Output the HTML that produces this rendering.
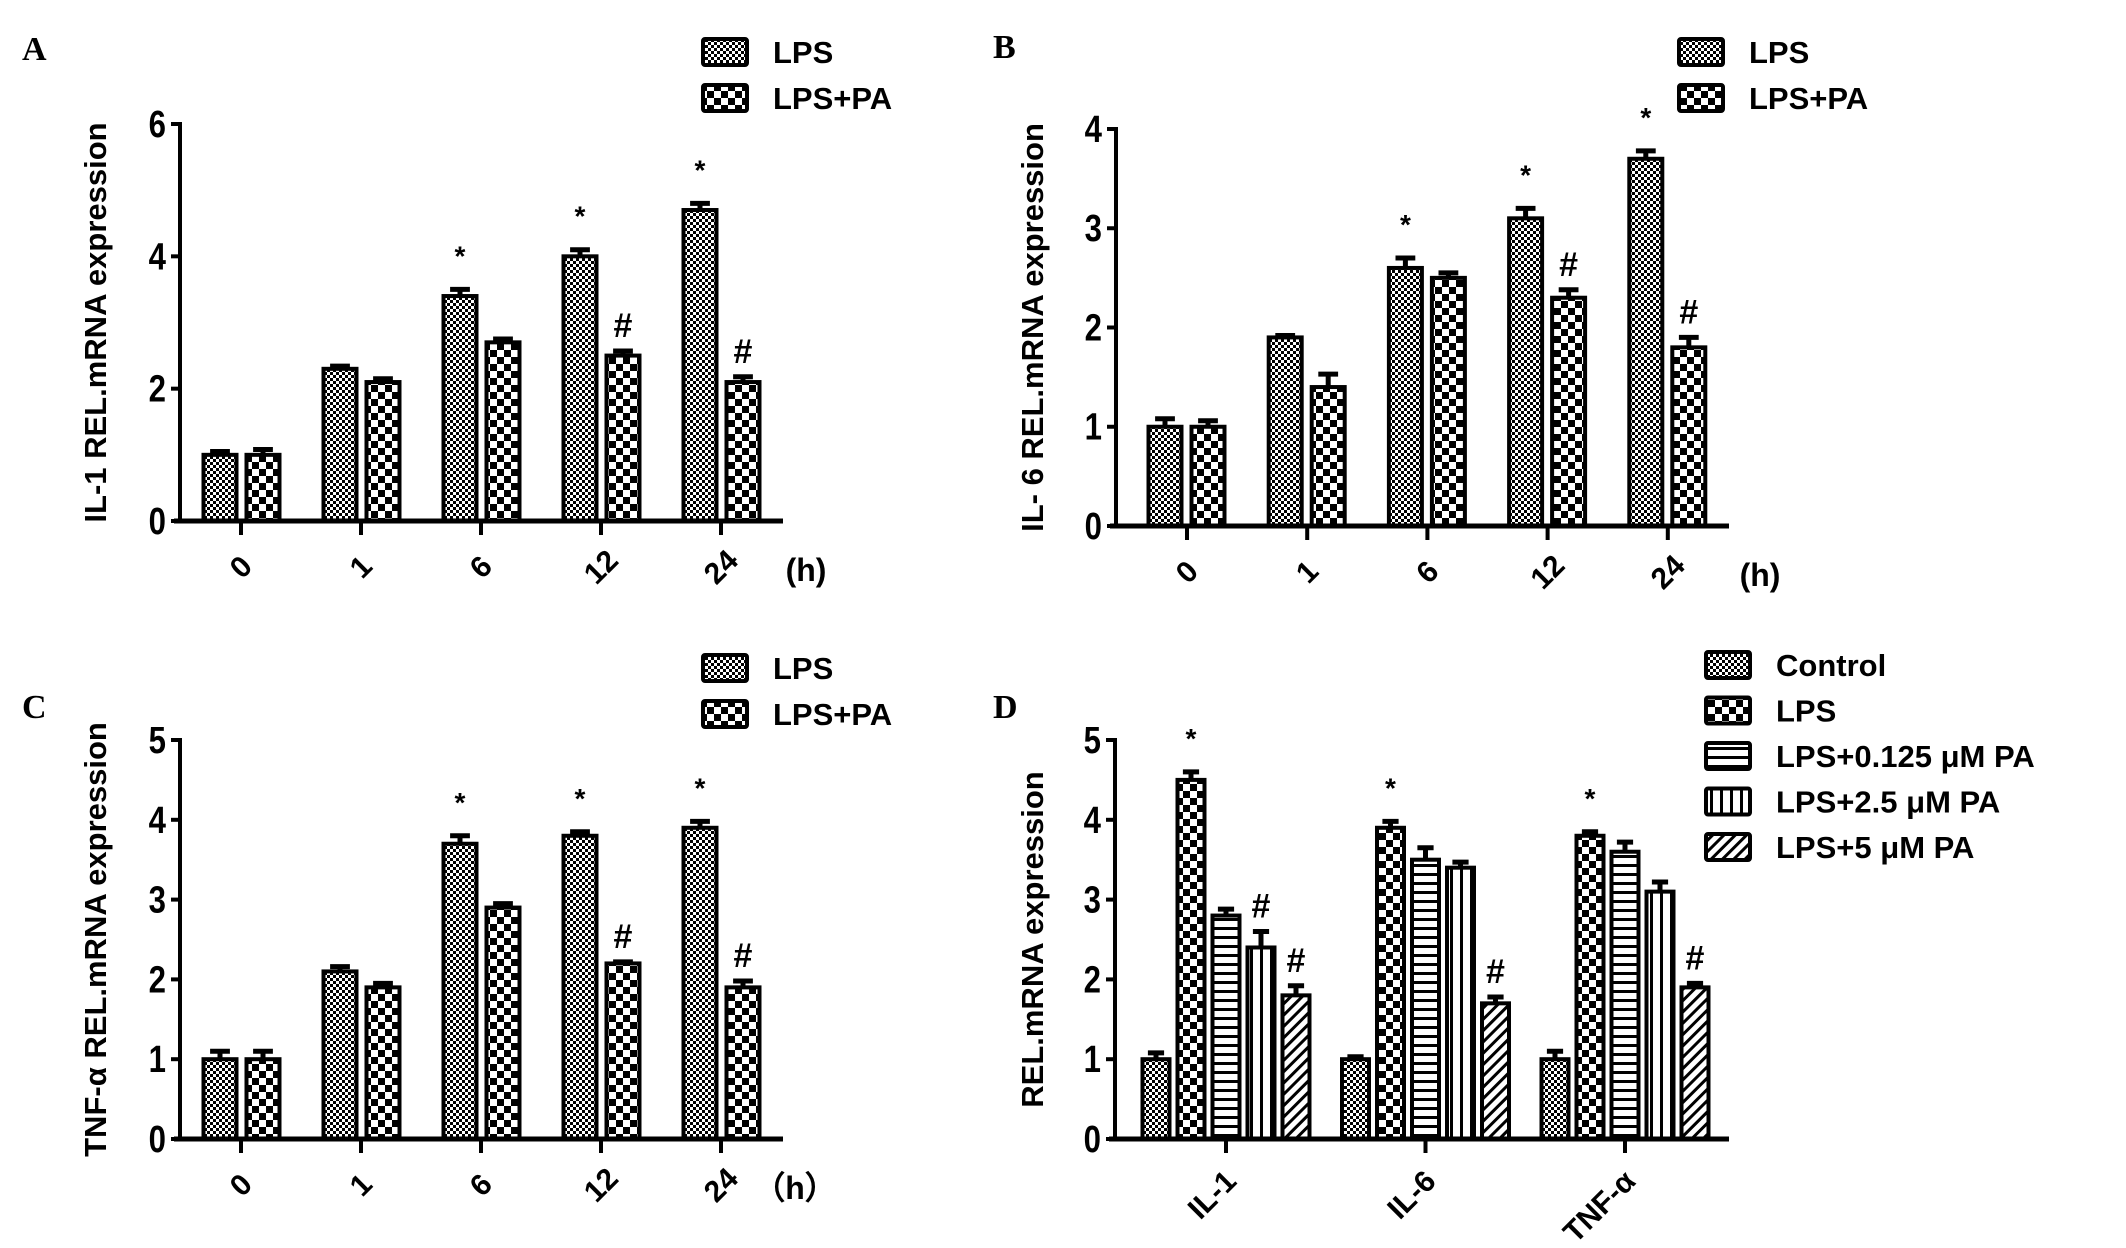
<!DOCTYPE html>
<html><head><meta charset="utf-8">
<style>
html,body{margin:0;padding:0;background:#fff;}
svg{display:block;}
text{font-family:"Liberation Sans",Arial,sans-serif;font-weight:bold;fill:#000;}
.lab{font-family:"Liberation Serif",serif;font-weight:bold;}
</style></head>
<body>
<svg id="fig" width="2126" height="1248" viewBox="0 0 2126 1248" xmlns="http://www.w3.org/2000/svg">
<defs>
<pattern id="pFine" width="6" height="6" patternUnits="userSpaceOnUse"><rect width="6" height="6" fill="#fff"/><rect width="3" height="3" fill="#000"/><rect x="3" y="3" width="3" height="3" fill="#000"/></pattern>
<pattern id="pCoarse" width="14" height="14" patternUnits="userSpaceOnUse"><rect width="14" height="14" fill="#fff"/><rect width="7" height="7" fill="#000"/><rect x="7" y="7" width="7" height="7" fill="#000"/></pattern>
<pattern id="pHoriz" width="8" height="9" patternUnits="userSpaceOnUse"><rect width="8" height="9" fill="#fff"/><rect y="0" width="8" height="3" fill="#000"/></pattern>
<pattern id="pVert" width="10" height="8" patternUnits="userSpaceOnUse"><rect width="10" height="8" fill="#fff"/><rect x="0" width="3" height="8" fill="#000"/></pattern>
<pattern id="pDiag" width="8" height="8" patternUnits="userSpaceOnUse" patternTransform="rotate(45)"><rect width="8" height="8" fill="#fff"/><rect width="3" height="8" fill="#000"/></pattern>
</defs>
</svg>
<script>
// ---- Data ----
const timeCats = ["0","1","6","12","24"];
const aLPS = [1.0,2.3,3.4,4.0,4.7];
const aLPSerr = [0.05,0.04,0.1,0.1,0.1];
const aPA = [1.0,2.1,2.7,2.5,2.1];
const aPAerr = [0.08,0.05,0.05,0.07,0.08];
const aStar = [false,false,true,true,true];
const aHash = [false,false,false,true,true];
const aTicks = [0,2,4,6];

const bLPS = [1.0,1.9,2.6,3.1,3.7];
const bLPSerr = [0.08,0.02,0.1,0.1,0.08];
const bPA = [1.0,1.4,2.5,2.3,1.8];
const bPAerr = [0.06,0.13,0.05,0.08,0.1];
const bStar = [false,false,true,true,true];
const bHash = [false,false,false,true,true];
const bTicks = [0,1,2,3,4];

const cLPS = [1.0,2.1,3.7,3.8,3.9];
const cLPSerr = [0.1,0.06,0.1,0.05,0.08];
const cPA = [1.0,1.9,2.9,2.2,1.9];
const cPAerr = [0.1,0.05,0.05,0.02,0.08];
const cStar = [false,false,true,true,true];
const cHash = [false,false,false,true,true];
const cTicks = [0,1,2,3,4,5];

const dCats = ["IL-1","IL-6","TNF-α"];
const dControl = [1.0,1.0,1.0];
const dControlErr = [0.08,0.03,0.1];
const dLPS = [4.5,3.9,3.8];
const dLPSerr = [0.1,0.08,0.05];
const dPA0125 = [2.8,3.5,3.6];
const dPA0125err = [0.08,0.15,0.12];
const dPA25 = [2.4,3.4,3.1];
const dPA25err = [0.2,0.07,0.12];
const dPA5 = [1.8,1.7,1.9];
const dPA5err = [0.12,0.08,0.05];
const dStar = [true,true,true];
const dHash25 = [true,false,false];
const dHash5 = [true,true,true];
const dTicks = [0,1,2,3,4,5];

const NS="http://www.w3.org/2000/svg";
const svg=document.getElementById('fig');
function mk(tag,attrs,parent){const e=document.createElementNS(NS,tag);for(const k in attrs)e.setAttribute(k,attrs[k]);(parent||svg).appendChild(e);return e;}
function txt(s,attrs,parent){const e=mk('text',attrs,parent);e.textContent=s;return e;}

function panel(o){
  const g=mk('g',{});
  
  
  const ymax=o.ticks[o.ticks.length-1];
  const Y=v=>o.y0-(o.y0-o.yTop)*v/ymax;
  const X=i=>o.gx0+i*o.gdx;
  o.series.forEach((s,si)=>{
    s.vals.forEach((v,i)=>{
      const cx=X(i)+o.offsets[si];
      const r=mk('rect',{x:cx-o.bw/2,y:Y(v),width:o.bw,height:o.y0-Y(v),fill:'url(#'+s.pat+')',stroke:'#000','stroke-width':4},g);
      
      
      const e=s.err[i];
      const eb=mk('path',{d:`M${cx},${Y(v)} V${Y(v+e)} M${cx-o.bw*0.3},${Y(v+e)} H${cx+o.bw*0.3}`,stroke:'#000','stroke-width':5,fill:'none'},g);
      
      
      if(s.marks&&s.marks[i]){
        const t=txt(s.mark,{x:cx,y:Y(v+e)-(s.mark==='*'?24:14),'text-anchor':'middle','font-size':s.mark==='*'?28:34},g);
        
        
      }
    });
  });
  const ya=mk('line',{x1:o.ax,y1:o.yTop-2,x2:o.ax,y2:o.y0+2,stroke:'#000','stroke-width':4},g);
  
  
  const xa=mk('line',{x1:o.ax-6,y1:o.y0,x2:o.xEnd,y2:o.y0,stroke:'#000','stroke-width':5},g);
  
  
  o.ticks.forEach(t=>{
    mk('line',{x1:o.ax-9,y1:Y(t),x2:o.ax,y2:Y(t),stroke:'#000','stroke-width':4},g);
    const lx=o.ax-14;
    const l=txt(String(t),{x:lx,y:Y(t)+13,'text-anchor':'end','font-size':38,transform:`translate(${lx} 0) scale(0.82 1) translate(${-lx} 0)`},g);
    
    
  });
  o.cats.forEach((c,i)=>{
    mk('line',{x1:X(i),y1:o.y0,x2:X(i),y2:o.y0+14,stroke:'#000','stroke-width':4},g);
    let l;
    if(o.endLabels){
      l=txt(c,{x:X(i)+12,y:o.y0+44,'text-anchor':'end','font-size':30,transform:`rotate(-45 ${X(i)+12} ${o.y0+44})`},g);
    } else {
      const ly=o.y0+46;
      l=txt(c,{x:X(i),y:ly+10,'text-anchor':'middle','font-size':30,transform:`rotate(-45 ${X(i)} ${ly})`},g);
    }
    
    
  });
  if(o.unit){
    const u=txt(o.unit,{x:o.unitX,y:o.y0+60,'font-size':32,'text-anchor':'middle'},g);
    
    
  }
  const yc=(o.y0+o.yTop)/2;
  const yt=txt(o.ytitle,{x:o.ytX,y:yc,'text-anchor':'middle','font-size':31,transform:`rotate(-90 ${o.ytX} ${yc})`},g);
  
  
  const pl=txt(o.letter,{x:o.lx,y:o.ly,'font-size':34,class:'lab'},g);
  
  
  o.series.forEach((s,si)=>{
    const yy=o.legY+si*o.legDy;
    const r=mk('rect',{x:o.legX,y:yy-13,width:44,height:26,fill:'url(#'+s.pat+')',stroke:'#000','stroke-width':4,rx:2},g);
    
    
    const t=txt(s.label,{x:o.legX+70,y:yy+11,'font-size':31},g);
    
    
  });
}

panel({name:'panel-a',letter:'A',lx:22,ly:60,ax:180,yTop:124,y0:521,xEnd:783,gx0:241,gdx:120,bw:33,offsets:[-21,22],
  ticks:aTicks,cats:timeCats,ytitle:'IL-1 REL.mRNA expression',ytX:106,unit:'(h)',unitX:806,legX:703,legY:52,legDy:46,
  series:[{key:'lps',label:'LPS',pat:'pFine',vals:aLPS,err:aLPSerr,marks:aStar,mark:'*'},
          {key:'lps-pa',label:'LPS+PA',pat:'pCoarse',vals:aPA,err:aPAerr,marks:aHash,mark:'#'}]});
panel({name:'panel-b',letter:'B',lx:993,ly:58,ax:1116,yTop:129,y0:526,xEnd:1729,gx0:1187,gdx:120.2,bw:33,offsets:[-22,21],
  ticks:bTicks,cats:timeCats,ytitle:'IL- 6 REL.mRNA expression',ytX:1043,unit:'(h)',unitX:1760,legX:1679,legY:52,legDy:46,
  series:[{key:'lps',label:'LPS',pat:'pFine',vals:bLPS,err:bLPSerr,marks:bStar,mark:'*'},
          {key:'lps-pa',label:'LPS+PA',pat:'pCoarse',vals:bPA,err:bPAerr,marks:bHash,mark:'#'}]});
panel({name:'panel-c',letter:'C',lx:22,ly:718,ax:180,yTop:740,y0:1139,xEnd:783,gx0:241,gdx:120,bw:33,offsets:[-21,22],
  ticks:cTicks,cats:timeCats,ytitle:'TNF-α  REL.mRNA expression',ytX:106,unit:'（h）',unitX:795,legX:703,legY:668,legDy:46,
  series:[{key:'lps',label:'LPS',pat:'pFine',vals:cLPS,err:cLPSerr,marks:cStar,mark:'*'},
          {key:'lps-pa',label:'LPS+PA',pat:'pCoarse',vals:cPA,err:cPAerr,marks:cHash,mark:'#'}]});
panel({name:'panel-d',letter:'D',lx:993,ly:718,ax:1115,yTop:740,y0:1139,xEnd:1729,gx0:1226,gdx:199.5,bw:27,offsets:[-70,-35,0,35,70],endLabels:true,
  ticks:dTicks,cats:dCats,ytitle:'REL.mRNA expression',ytX:1043,legX:1706,legY:665,legDy:45.5,
  series:[{key:'control',label:'Control',pat:'pFine',vals:dControl,err:dControlErr},
          {key:'lps',label:'LPS',pat:'pCoarse',vals:dLPS,err:dLPSerr,marks:dStar,mark:'*'},
          {key:'lps-0125pa',label:'LPS+0.125 μM PA',pat:'pHoriz',vals:dPA0125,err:dPA0125err},
          {key:'lps-25pa',label:'LPS+2.5 μM PA',pat:'pVert',vals:dPA25,err:dPA25err,marks:dHash25,mark:'#'},
          {key:'lps-5pa',label:'LPS+5 μM PA',pat:'pDiag',vals:dPA5,err:dPA5err,marks:dHash5,mark:'#'}]});
</script>
</body></html>
